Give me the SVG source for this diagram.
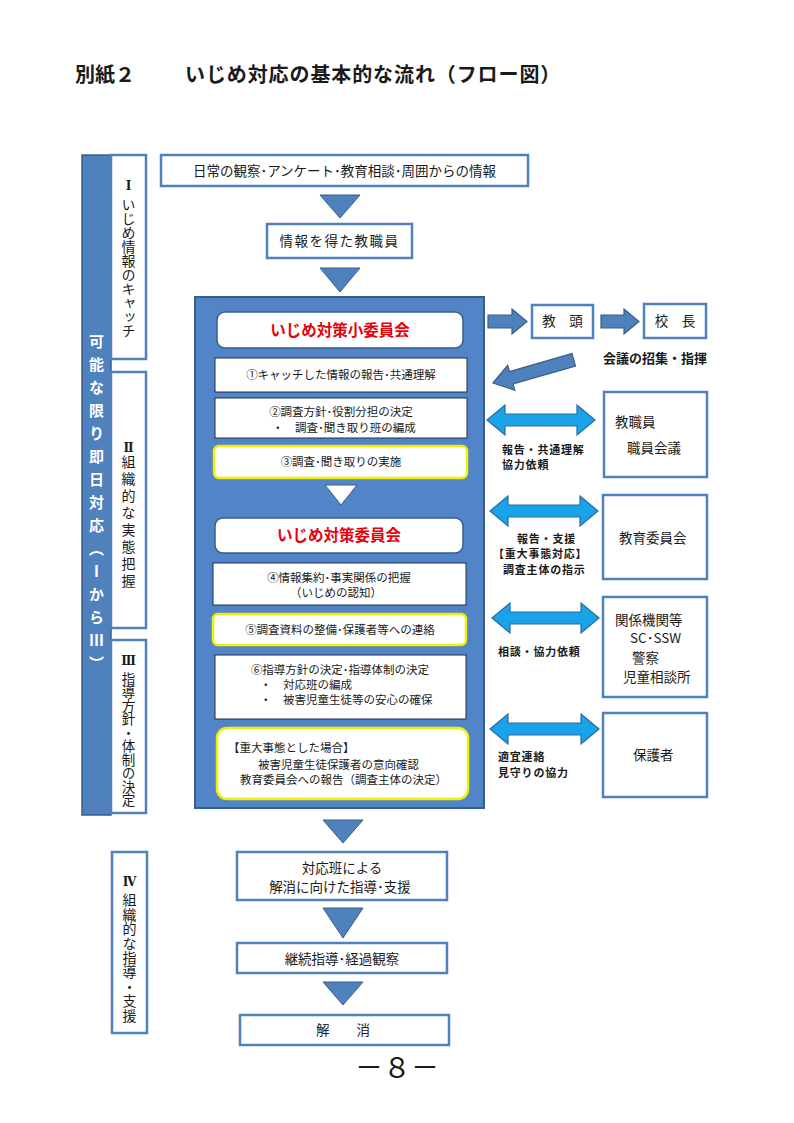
<svg xmlns="http://www.w3.org/2000/svg" width="794" height="1123" viewBox="0 0 794 1123">
<style>
text{font-family:"Noto Sans CJK JP","Noto Sans CJK SC",sans-serif;fill:#1a1a1a}
.t13{font-size:13.5px}
.t11{font-size:11.5px}
.mid{text-anchor:middle}
.lb{font-size:11px;font-weight:bold;letter-spacing:0.8px}
.box{fill:#fff;stroke:#4f81bd;stroke-width:2.5}
.inb{fill:#fff;stroke:#1f2d4a;stroke-width:1}
.ylw{fill:#fff;stroke:#f0f000;stroke-width:2.5}
.ttl{fill:#fff;stroke:#385d8a;stroke-width:1.5}
.red{font-size:15.5px;font-weight:bold;fill:#e8000b}
.tri{fill:#4f81bd;stroke:#385d8a;stroke-width:1}
.dbl{fill:#1aa3e8;stroke:#2a6aa6;stroke-width:1.2}
.blk{fill:#4f81bd;stroke:#385d8a;stroke-width:1.2}
.vt{writing-mode:vertical-rl;font-size:14px}
.rn{font-family:"DejaVu Serif","Liberation Serif",serif;font-weight:bold;font-size:12px;text-anchor:middle}
</style>

<g id="title">
<text x="75" y="82" style="font-size:20px;font-weight:bold">別紙２</text>
<text x="185" y="82" style="font-size:20px;font-weight:bold;letter-spacing:0.9px">いじめ対応の基本的な流れ（フロー図）</text>
</g>

<g id="sidebar">
<rect x="82" y="155" width="29" height="660" fill="#4f81bd" stroke="#385d8a" stroke-width="1.5"/>
<text class="vt" x="96.5" y="334" style="font-size:15px;font-weight:bold;fill:#fff;letter-spacing:8px">可能な限り即日対応（ⅠからⅢ）</text>
</g>

<g id="stage1">
<rect class="box" x="111" y="155" width="35" height="204" stroke-width="2"/>
<text class="rn" x="128.5" y="190">Ⅰ</text>
<text class="vt" x="128.5" y="198">いじめ情報のキャッチ</text>
</g>
<g id="stage2">
<rect class="box" x="111" y="372" width="35" height="256" stroke-width="2"/>
<text class="rn" x="128.5" y="452">Ⅱ</text>
<text class="vt" x="128.5" y="455" style="letter-spacing:3px">組織的な実態把握</text>
</g>
<g id="stage3">
<rect class="box" x="111" y="640" width="35" height="173" stroke-width="2"/>
<text class="rn" x="128.5" y="665">Ⅲ</text>
<text class="vt" x="128.5" y="672" style="font-size:13.5px">指導方針・体制の決定</text>
</g>
<g id="stage4">
<rect class="box" x="112" y="852" width="35" height="181" stroke-width="2"/>
<text class="rn" x="129.5" y="886">Ⅳ</text>
<text class="vt" x="129.5" y="893" style="letter-spacing:0.4px">組織的な指導・支援</text>
</g>

<g id="n-info">
<rect class="box" x="161" y="155" width="367" height="31"/>
<text class="t13 mid" x="344.5" y="176">日常の観察･アンケート･教育相談･周囲からの情報</text>
</g>
<g id="n-teacher">
<rect class="box" x="267" y="224" width="145" height="34"/>
<text class="t13 mid" x="339.5" y="246" style="letter-spacing:1.5px">情報を得た教職員</text>
</g>

<g id="n-main">
<rect x="195" y="297" width="289" height="511" fill="#5284c8" stroke="#385d8a" stroke-width="2"/>
</g>
<g id="n-subcommittee">
<rect class="ttl" x="217" y="312" width="246" height="36" rx="8"/>
<text class="red mid" x="340" y="336">いじめ対策小委員会</text>
</g>
<g id="n-step1">
<rect class="inb" x="215" y="358" width="252" height="34"/>
<text class="t11 mid" x="341" y="379">①キャッチした情報の報告･共通理解</text>
</g>
<g id="n-step2">
<rect class="inb" x="215" y="398" width="252" height="40"/>
<text class="t11 mid" x="341" y="416">②調査方針･役割分担の決定</text>
<text class="t11" x="272" y="432">・　調査･聞き取り班の編成</text>
</g>
<g id="n-step3">
<rect class="ylw" x="214" y="446" width="253" height="32" rx="5"/>
<text class="t11 mid" x="341" y="466">③調査･聞き取りの実施</text>
</g>
<g id="n-committee">
<rect class="ttl" x="215" y="518" width="248" height="35" rx="8"/>
<text class="red mid" x="339" y="541">いじめ対策委員会</text>
</g>
<g id="n-step4">
<rect class="inb" x="213" y="563" width="253" height="42"/>
<text class="t11 mid" x="339" y="582">④情報集約･事実関係の把握</text>
<text class="t11 mid" x="336" y="597">（いじめの認知）</text>
</g>
<g id="n-step5">
<rect class="ylw" x="213" y="614" width="253" height="31" rx="5"/>
<text class="t11 mid" x="340" y="634">⑤調査資料の整備･保護者等への連絡</text>
</g>
<g id="n-step6">
<rect class="inb" x="215" y="655" width="251" height="64"/>
<text class="t11 mid" x="340" y="674">⑥指導方針の決定･指導体制の決定</text>
<text class="t11" x="260" y="689">・　対応班の編成</text>
<text class="t11" x="260" y="704">・　被害児童生徒等の安心の確保</text>
</g>
<g id="n-serious">
<rect class="ylw" x="217" y="728" width="251" height="71" rx="10"/>
<text class="t11" x="228" y="752">【重大事態とした場合】</text>
<text class="t11" x="258" y="769">被害児童生徒保護者の意向確認</text>
<text class="t11" x="240" y="784">教育委員会への報告（調査主体の決定）</text>
</g>

<g id="n-vice">
<rect class="box" x="532" y="305" width="61" height="33"/>
<text class="t13 mid" x="562.5" y="326">教　頭</text>
</g>
<g id="n-principal">
<rect class="box" x="644" y="304" width="62" height="34"/>
<text class="t13 mid" x="675" y="326">校　長</text>
</g>
<g id="n-staff">
<rect class="box" x="604" y="392" width="103" height="85"/>
<text class="t13" x="615" y="427">教職員</text>
<text class="t13" x="627" y="453">職員会議</text>
</g>
<g id="n-board">
<rect class="box" x="603" y="495" width="104" height="84"/>
<text class="t13" x="619" y="543">教育委員会</text>
</g>
<g id="n-agencies">
<rect class="box" x="603" y="597" width="104" height="100"/>
<text class="t13" x="615" y="625">関係機関等</text>
<text class="t13" x="630" y="643">SC･SSW</text>
<text class="t13" x="632" y="663">警察</text>
<text class="t13" x="623" y="682">児童相談所</text>
</g>
<g id="n-guardian">
<rect class="box" x="603" y="713" width="104" height="84"/>
<text class="t13" x="633" y="760">保護者</text>
</g>

<g id="n-team">
<rect class="box" x="237" y="852" width="210" height="48"/>
<text class="t13 mid" x="342" y="873">対応班による</text>
<text class="t13 mid" x="340" y="892">解消に向けた指導･支援</text>
</g>
<g id="n-follow">
<rect class="box" x="237" y="943" width="210" height="30"/>
<text class="t13 mid" x="342" y="964">継続指導･経過観察</text>
</g>
<g id="n-resolve">
<rect class="box" x="240" y="1015" width="209" height="30"/>
<text class="t13 mid" x="343" y="1035">解　　消</text>
</g>

<g id="connectors">
<polygon class="tri" points="320,195 360,195 340,218"/>
<polygon class="tri" points="320,268 360,268 340,292"/>
<polygon points="325,485 357,485 341,505" fill="#fff" stroke="#385d8a" stroke-width="1"/>
<polygon class="tri" points="323,820 363,820 343,843"/>
<polygon class="tri" points="323,908 363,908 343,938"/>
<polygon class="tri" points="323,982 363,982 343,1005"/>
<path class="blk" d="M488,315 L512,315 L512,309 L527,321.5 L512,334 L512,328 L488,328 Z"/>
<path class="blk" d="M601,315 L624,315 L624,309 L639,321.5 L624,334 L624,328 L601,328 Z"/>
<path class="blk" transform="translate(493,383) rotate(-16)" d="M0,0 L19,-13 L19,-6.5 L84,-6.5 L84,6.5 L19,6.5 L19,13 Z"/>
<path class="dbl" d="M487,420 L505,405 L505,414 L577,414 L577,405 L595,420 L577,435 L577,426 L505,426 L505,435 Z"/>
<path class="dbl" d="M490,511 L508,496 L508,505 L580,505 L580,496 L598,511 L580,526 L580,517 L508,517 L508,526 Z"/>
<path class="dbl" d="M492,618 L510,603 L510,612 L581,612 L581,603 L599,618 L581,633 L581,624 L510,624 L510,633 Z"/>
<path class="dbl" d="M490,729 L508,714 L508,723 L581,723 L581,714 L599,729 L581,744 L581,735 L508,735 L508,744 Z"/>
<text x="603" y="363" style="font-size:13px;font-weight:bold">会議の招集・指揮</text>
<text class="lb" x="502" y="454">報告・共通理解</text>
<text class="lb" x="502" y="469">協力依頼</text>
<text class="lb" x="517" y="543">報告・支援</text>
<text class="lb" x="493" y="558">【重大事態対応】</text>
<text class="lb" x="503" y="574">調査主体の指示</text>
<text class="lb" x="498" y="656">相談・協力依頼</text>
<text class="lb" x="498" y="761">適宜連絡</text>
<text class="lb" x="498" y="777">見守りの協力</text>
</g>

<text x="355" y="1078" style="font-size:28px">－８－</text>
</svg>
